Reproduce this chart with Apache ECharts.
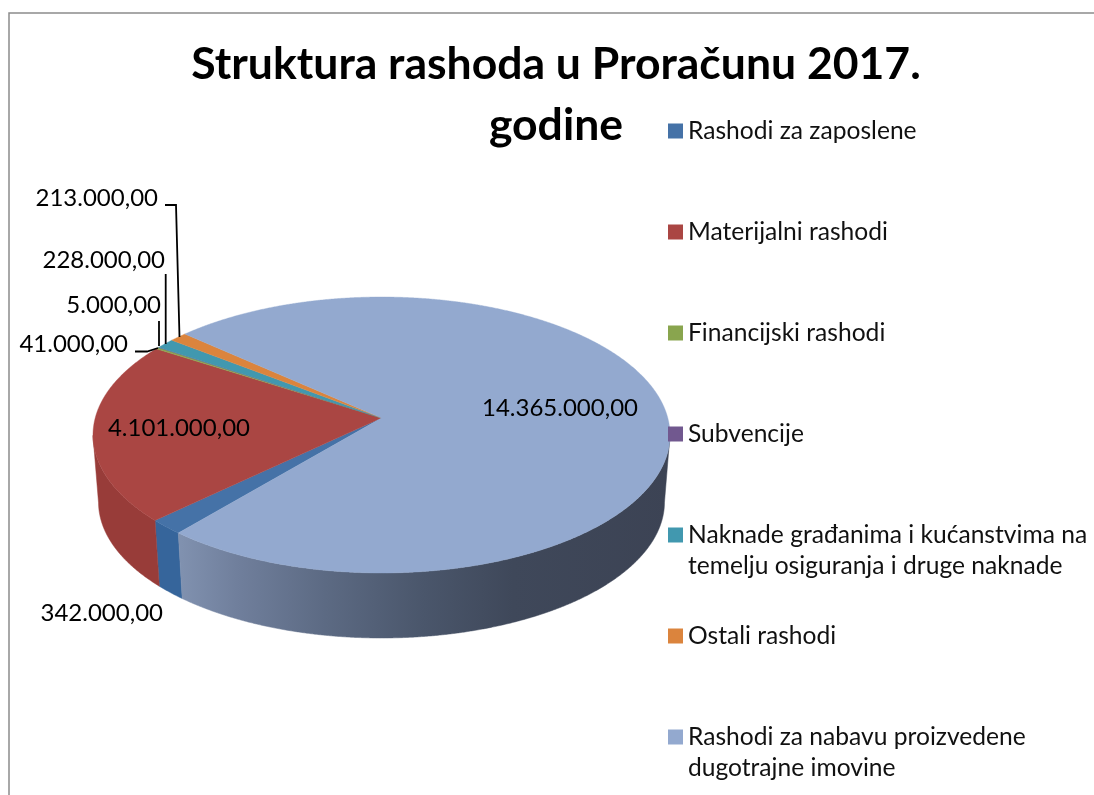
<!DOCTYPE html>
<html>
<head>
<meta charset="utf-8">
<style>html,body{margin:0;padding:0;background:#fff}#c{width:1094px;height:795px}</style>
<script src="https://cdn.jsdelivr.net/npm/echarts@6/dist/echarts.min.js"></script>
</head>
<body>
<div id="c"></div>
<script>
const categories = [
  'Rashodi za zaposlene',
  'Materijalni rashodi',
  'Financijski rashodi',
  'Subvencije',
  'Naknade građanima i kućanstvima na\ntemelju osiguranja i druge naknade',
  'Ostali rashodi',
  'Rashodi za nabavu proizvedene\ndugotrajne imovine'
];
const values = [342000, 4101000, 41000, 5000, 228000, 213000, 14365000];
const legendColors = ['#4572a7', '#aa4643', '#89a54e', '#71588f', '#4198af', '#db843d', '#93a9cf'];
const wallColors = ['#36659b', '#983c39', '#7a9345', '#644e7f', '#39869c', '#c37536', '#6f7f9c'];

// layout
const firstAngle = 220;
const top3d = { cx: 381.5, cy: 435, rx: 288.5, ry: 138 };
const bottom3d = { cx: 381.5, cy: 502, rx: 283, ry: 136 };
const apexShift = -0.123;
const legendCentres = [131, 232, 333, 434, 535, 636, 737];
const labelPlaces = [
  { x: 163, y: 613, align: 'right' },
  { x: 250, y: 428, align: 'right' },
  { x: 128, y: 344, align: 'right' },
  { x: 161, y: 305, align: 'right' },
  { x: 165, y: 260, align: 'right' },
  { x: 158, y: 198, align: 'right' },
  { x: 638, y: 408, align: 'right' }
];
const leaders = [
  [[165, 205], [176, 205], [179.5, 337]],
  [[165.7, 274], [165.7, 344]],
  [[159, 321], [159, 346]],
  [[135, 351.5], [147, 351.5], [158, 348]]
];

const total = values.reduce((a, b) => a + b, 0);
const starts = [];
values.reduce((acc, v, i) => { starts[i] = acc; return acc + v / total * 360; }, firstAngle);

// perspective map of a circle angle (degrees clockwise from 12 o'clock) onto the unit disc of the ellipse
function rim(deg) {
  const a = deg * Math.PI / 180, x = Math.sin(a), y = -Math.cos(a), e = apexShift;
  const d = 1 + e * y;
  return [x * Math.sqrt(1 - e * e) / d, (y + e) / d];
}
const onEllipse = (p, E) => [E.cx + p[0] * E.rx, E.cy + p[1] * E.ry];

function money(v) {
  return String(v).replace(/\B(?=(\d{3})+$)/g, '.') + ',00';
}

const wallFill = [
  null, null, null, null, null, null,
  { type: 'linear', x: 178, y: 0, x2: 670, y2: 0, global: true, colorStops: [
    { offset: 0, color: '#8192b0' },
    { offset: 0.12, color: '#707f9c' },
    { offset: 0.3, color: '#5c6a83' },
    { offset: 0.5, color: '#4a566b' },
    { offset: 0.68, color: '#3f485a' },
    { offset: 1, color: '#3c4354' }
  ] }
];

function sliceRenderer(i) {
  return function (params, api) {
    if (params.dataIndex !== 0) return null;
    const v = api.value(0);
    const sweep = v / total * 360, a0 = starts[i];
    const topPts = [], wallTop = [], wallBottom = [];
    const n = Math.max(2, Math.ceil(sweep * 4));
    for (let k = 0; k <= n; k++) {
      const p = rim(a0 + sweep * k / n);
      topPts.push(onEllipse(p, top3d));
      if (p[1] >= 0) {
        wallTop.push(onEllipse(p, top3d));
        wallBottom.push(onEllipse(p, bottom3d));
      }
    }
    const apex = onEllipse([0, apexShift], top3d);
    const children = [];
    if (wallTop.length > 1) {
      const fill = wallFill[i] || wallColors[i];
      children.push({
        type: 'polygon', z2: 1,
        shape: { points: wallTop.concat(wallBottom.reverse()) },
        style: { fill: fill, stroke: fill, lineWidth: 0.5 }
      });
    }
    children.push({
      type: 'polygon', z2: 2,
      shape: { points: [apex].concat(topPts) },
      style: { fill: legendColors[i], stroke: legendColors[i], lineWidth: 0.4 }
    });
    const lp = labelPlaces[i];
    children.push({
      type: 'text', z2: 10,
      x: lp.x, y: lp.y,
      style: { text: money(v), fill: '#000', font: '24px Lato, Carlito, sans-serif', align: lp.align, verticalAlign: 'middle' }
    });
    return { type: 'group', children: children };
  };
}

const option = {
  animation: false,
  backgroundColor: '#ffffff',
  title: {
    text: 'Struktura rashoda u Proračunu 2017.\ngodine',
    left: 556, top: 34, textAlign: 'center', padding: 0,
    textStyle: { color: '#000', fontFamily: 'Lato, Carlito, sans-serif', fontWeight: 'bold', fontSize: 44.5, lineHeight: 61 }
  },
  legend: categories.map((name, i) => ({
    data: [name],
    left: 668,
    top: legendCentres[i] - (name.includes('\n') ? 46.5 : 15.5),
    padding: 0,
    icon: 'rect', itemWidth: 15, itemHeight: 15,
    selectedMode: false,
    formatter: n => n.includes('\n') ? '\n' + n : n,
    textStyle: { color: '#111', fontFamily: 'Lato, Carlito, sans-serif', fontSize: 24.6, lineHeight: 31 }
  })),
  graphic: [
    { type: 'rect', silent: true, z: -1, shape: { x: 9, y: 13, width: 1200, height: 900 }, style: { fill: '#fff', stroke: '#8c8c8c', lineWidth: 1.5 } }
  ].concat(leaders.map(pts => ({
    type: 'polyline', silent: true, z: 20, shape: { points: pts }, style: { fill: null, stroke: '#000', lineWidth: 1.8 }
  }))),
  series: categories.map((name, i) => ({
    type: 'custom',
    name: name,
    coordinateSystem: 'none',
    itemStyle: { color: legendColors[i] },
    renderItem: sliceRenderer(i),
    data: [[values[i]]]
  }))
};
echarts.init(document.getElementById('c'), null, { renderer: 'canvas' }).setOption(option);
</script>
</body>
</html>
